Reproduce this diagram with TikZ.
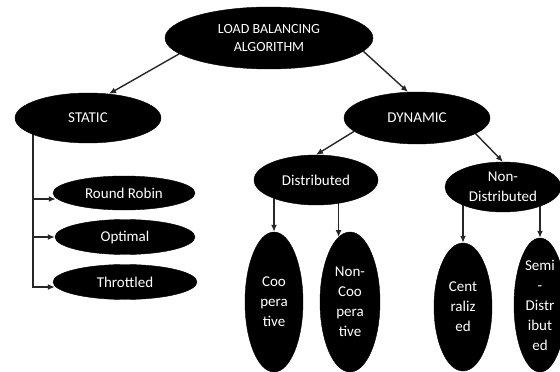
\documentclass[tikz,border=0pt]{standalone}
\usepackage{fontspec}
\setmainfont{Carlito}
\usetikzlibrary{shapes.geometric,arrows.meta,backgrounds}
\begin{document}
\begin{tikzpicture}[x=1pt,y=-1pt,
  oval/.style={ellipse,fill=black,draw=black,text=white,inner sep=0pt,align=center,
    font=\fontsize{15}{20}\selectfont},
  link/.style={draw=black!85,line width=1.4pt,-{Latex[length=7pt,width=6pt]}}]
\useasboundingbox (0,0) rectangle (560,372);

\node[oval,minimum width=208pt,minimum height=62pt,font=\fontsize{14}{18}\selectfont] (root) at (269,38) {LOAD BALANCING\\ALGORITHM};
\node[oval,minimum width=146pt,minimum height=50pt] (static) at (88,118) {STATIC};
\node[oval,minimum width=146pt,minimum height=52pt] (dynamic) at (417,118) {DYNAMIC};

\node[oval,minimum width=142pt,minimum height=34pt] (rr) at (124,193) {Round Robin};
\node[oval,minimum width=140pt,minimum height=35pt] (opt) at (125,237) {Optimal};
\node[oval,minimum width=144pt,minimum height=35pt] (thr) at (125,282) {Throttled};

\node[oval,minimum width=124pt,minimum height=50pt] (dist) at (316,180) {Distributed};
\node[oval,minimum width=116pt,minimum height=50pt] (nondist) at (503,187) {Non-\\Distributed};

\node[oval,minimum width=58pt,minimum height=140pt] (coop) at (274,302) {Coo\\pera\\tive};
\node[oval,minimum width=60pt,minimum height=140pt] (noncoop) at (350,302) {Non-\\Coo\\pera\\tive};
\node[oval,minimum width=58pt,minimum height=128pt] (cent) at (463,307) {Cent\\raliz\\ed};
\node[oval,minimum width=52pt,minimum height=134pt] (semi) at (540,305) {Semi\\-\\Distr\\ibut\\ed};

\coordinate (trunk) at (33,118);

\begin{scope}[on background layer]
\fill[white] (0,0) rectangle (560,372);
\draw[link] (root.190) -- (static.49);
\draw[link] (root.352) -- (dynamic.109);
\draw[link] (trunk) |- ([yshift=-6pt,xshift=3pt]rr.west);
\draw[link] (trunk) |- (opt.west);
\draw[link] (trunk) |- ([yshift=-5pt,xshift=2pt]thr.west);
\draw[link] (dynamic.192) -- (dist.north);
\draw[link] (dynamic.345) -- (nondist.north);
\draw[link] (coop.north |- dist.center) -- (coop.north);
\draw[link] (noncoop.100 |- dist.center) -- (noncoop.100);
\draw[link] (cent.north |- nondist.center) -- (cent.north);
\draw[link] (semi.north |- nondist.center) -- (semi.north);
\end{scope}
\end{tikzpicture}
\end{document}
